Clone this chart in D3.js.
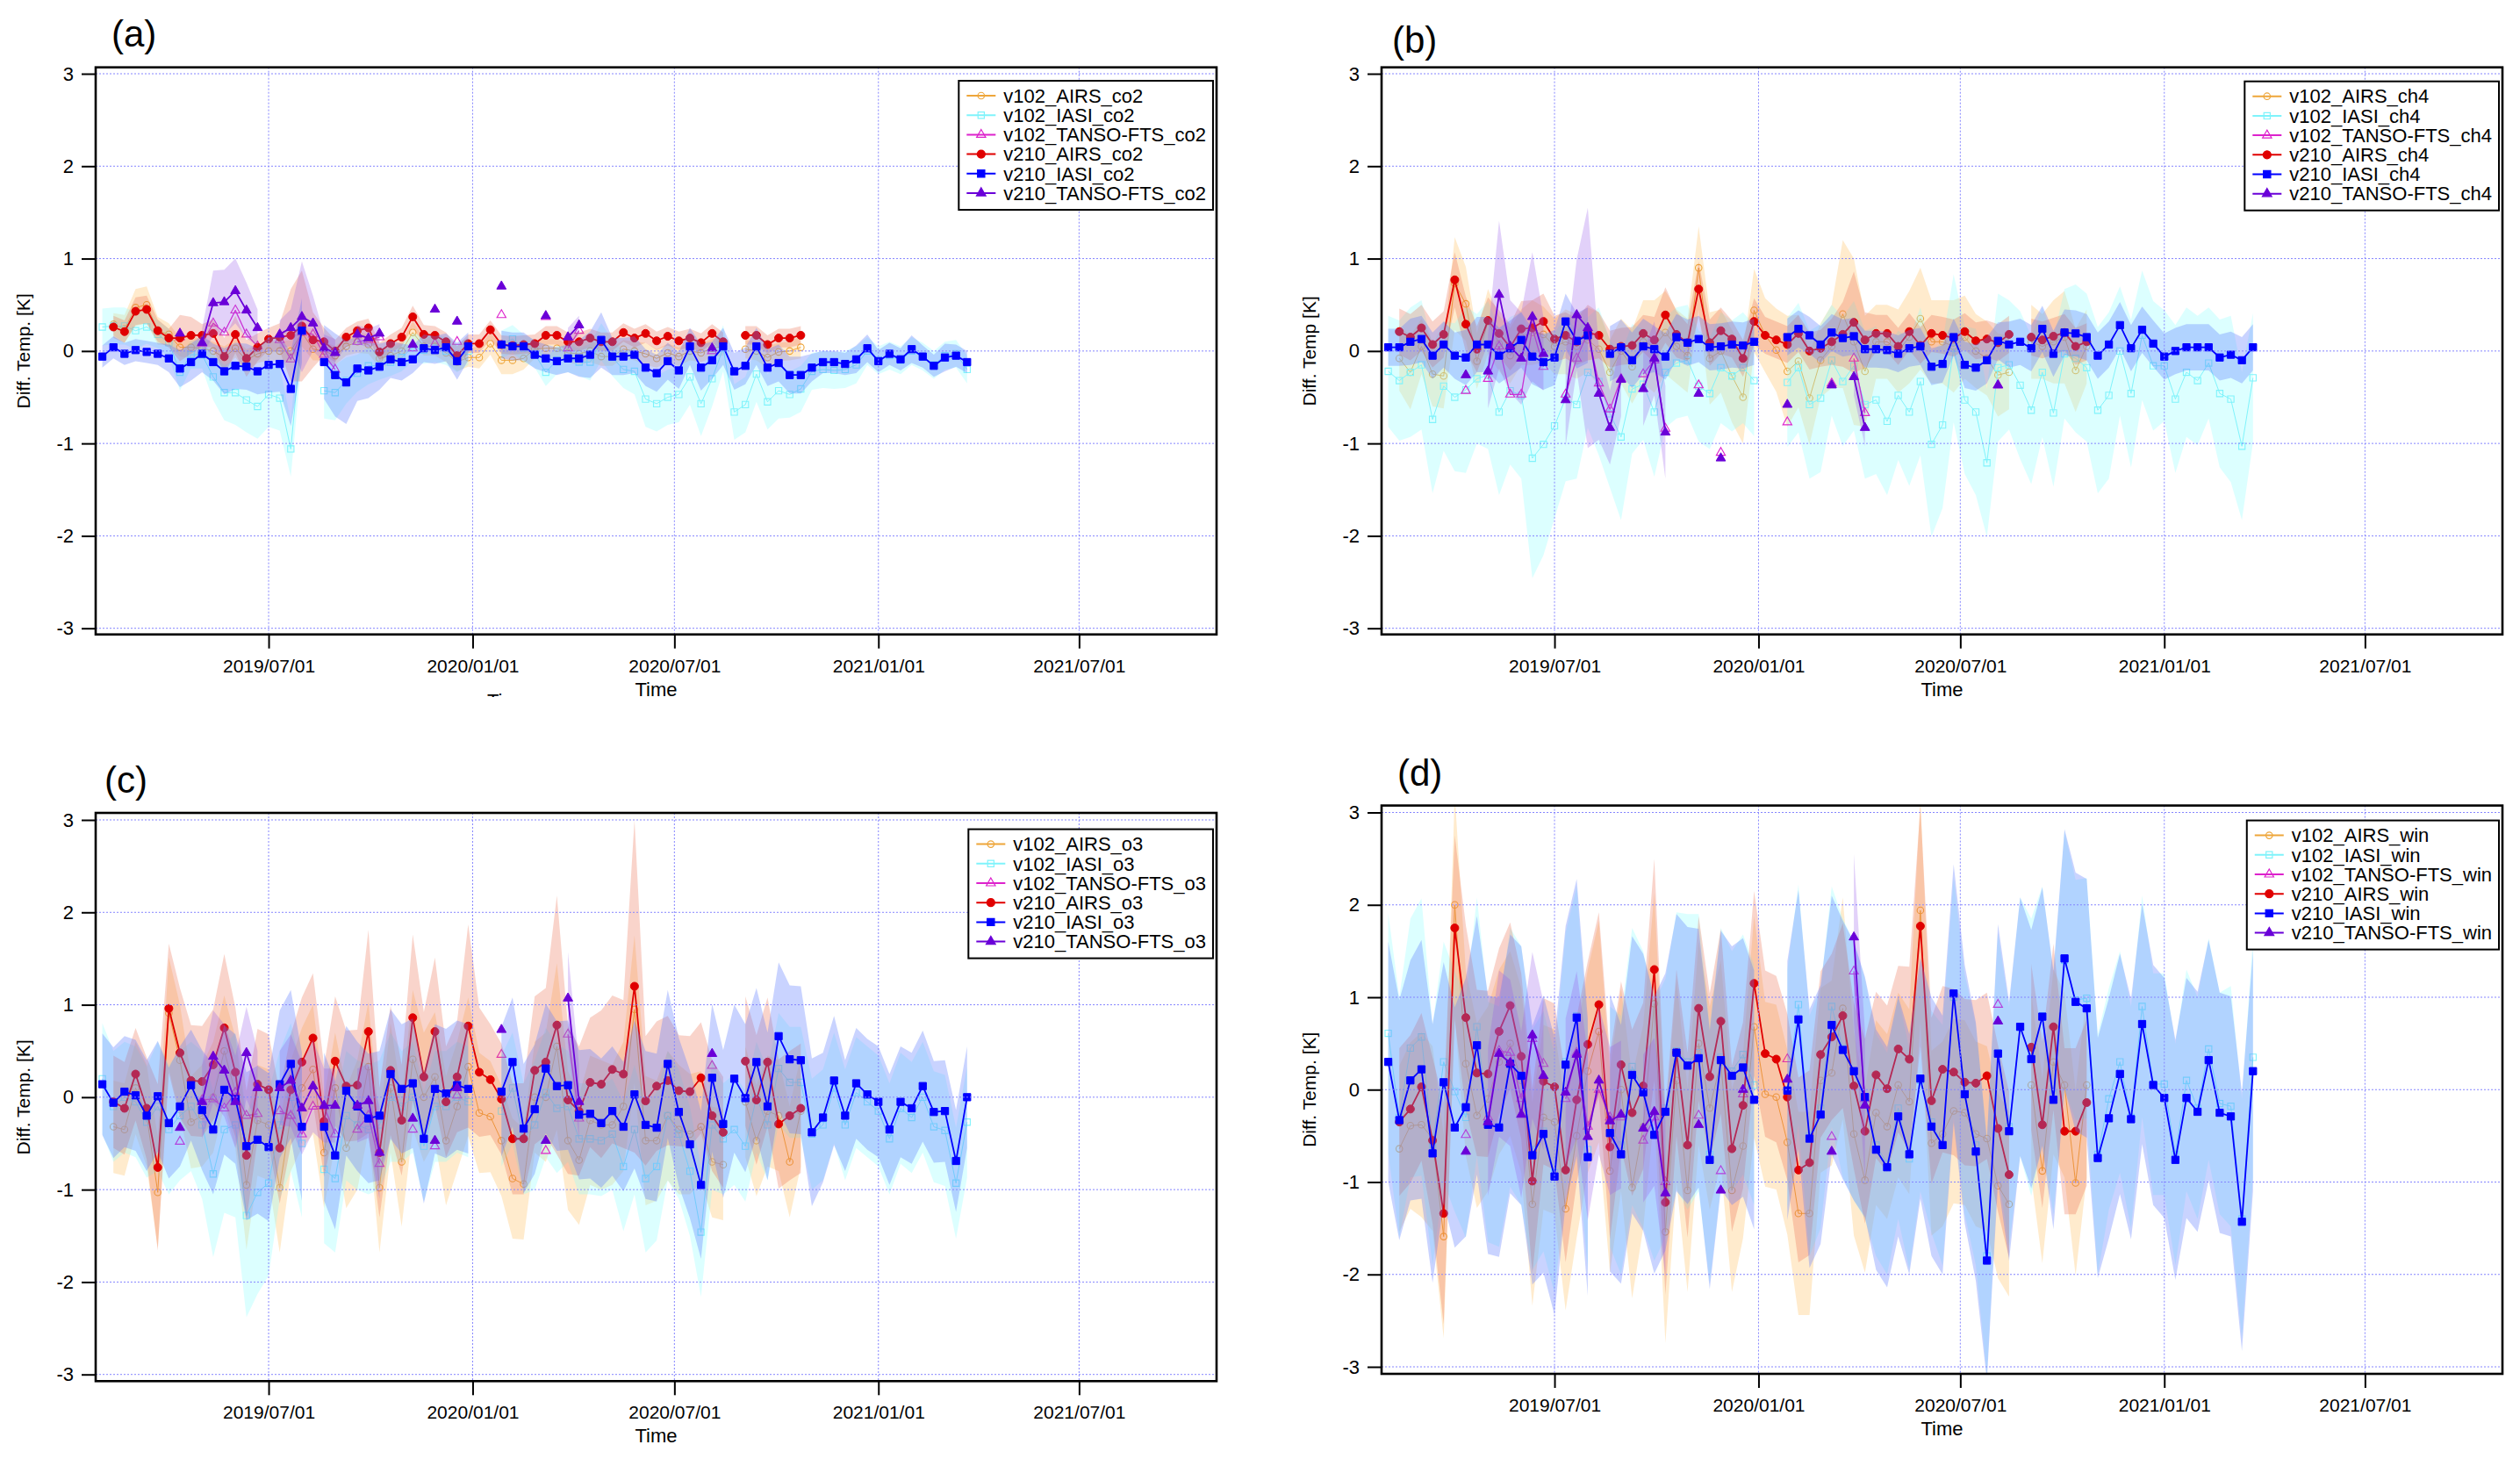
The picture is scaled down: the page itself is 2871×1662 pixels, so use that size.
<!DOCTYPE html>
<html>
<head>
<meta charset="utf-8">
<script src="https://cdn.jsdelivr.net/npm/d3@7"></script>
<style>
body { margin: 0; background: #fff; }
svg text { font-family: "Liberation Sans", Arial, Helvetica, sans-serif; fill: #000; }
</style>
</head>
<body>
<svg id="chart" width="2871" height="1662"></svg>
<script>

// ---------- data ----------
// 10-day sampling dates shared by every series
var dates = [
    "2019-02-01","2019-02-11","2019-02-21","2019-03-03","2019-03-13","2019-03-23","2019-04-02","2019-04-12","2019-04-22","2019-05-02",
    "2019-05-12","2019-05-22","2019-06-01","2019-06-11","2019-06-21","2019-07-01","2019-07-11","2019-07-21","2019-07-31","2019-08-10",
    "2019-08-20","2019-08-30","2019-09-09","2019-09-19","2019-09-29","2019-10-09","2019-10-19","2019-10-29","2019-11-08","2019-11-18",
    "2019-11-28","2019-12-08","2019-12-18","2019-12-28","2020-01-07","2020-01-17","2020-01-27","2020-02-06","2020-02-16","2020-02-26",
    "2020-03-07","2020-03-17","2020-03-27","2020-04-06","2020-04-16","2020-04-26","2020-05-06","2020-05-16","2020-05-26","2020-06-05",
    "2020-06-15","2020-06-25","2020-07-05","2020-07-15","2020-07-25","2020-08-04","2020-08-14","2020-08-24","2020-09-03","2020-09-13",
    "2020-09-23","2020-10-03","2020-10-13","2020-10-23","2020-11-02","2020-11-12","2020-11-22","2020-12-02","2020-12-12","2020-12-22",
    "2021-01-01","2021-01-11","2021-01-21","2021-01-31","2021-02-10","2021-02-20","2021-03-02","2021-03-12","2021-03-22"
];

// TANSO-FTS matchups only exist on these dates
var tansoDates = ["2019-04-12","2019-05-02","2019-05-12","2019-05-22","2019-06-01","2019-06-11","2019-06-21","2019-07-11",
    "2019-07-21","2019-07-31","2019-08-10","2019-08-20","2019-08-30","2019-09-19","2019-09-29","2019-10-09","2019-11-08",
    "2019-11-28","2019-12-18","2020-01-27","2020-03-07","2020-03-27","2020-04-06","2020-08-04"];

var xDomain = ["2019-01-26", "2021-11-02"];
var tickDates = ["2019-07-01", "2020-01-01", "2020-07-01", "2021-01-01", "2021-07-01"];
var yTicks = [-3, -2, -1, 0, 1, 2, 3];
var seriesNames = ["v102_AIRS", "v102_IASI", "v102_TANSO-FTS", "v210_AIRS", "v210_IASI", "v210_TANSO-FTS"];

// (a) co2
var co2_v102_airs = [null,.29,.24,.47,.5,.22,.18,.04,.04,.03, 0,-.07,.03,-.1,-.03,0,0,0,.2,.02, 0,-.05,.05,.1,.07,-.08,-.05,0,.2,.05,
    .05,-.02,-.12,-.07,-.07,.08,-.1,-.1,-.08,.02, .03,.03,-.02,-.03,0,-.06,-.06,.02,0,-.03, -.08,-.02,-.06,0,-.02,.03,.05,null,.02,0, -.07,-.01,0,.04];
var co2_v102_airs_sd = [null,.12,.15,.2,.2,.15,.12,.1,.12,.1, .1,.12,.1,.12,.1,.1,.1,.12,.15,.12, .1,.1,.1,.12,.1,.1,.1,.1,.12,.1,
    .1,.1,.1,.1,.12,.12,.15,.15,.12,.1, .1,.1,.1,.12,.12,.1,.1,.1,.1,.12, .1,.1,.1,.1,.1,.1,.1,null,.1,.1, .12,.1,.1,.12];
var co2_v102_iasi = [.26,.27,.27,.22,.26,.18,.09,-.23,-.04,-.04, -.28,-.45,-.45,-.53,-.6,-.47,-.51,-1.06,.22,null, -.43,-.45,-.32,-.24,-.16,-.16,-.12,-.07,.04,.01,
    .03,0,-.08,0,null,null,.07,.13,.03,-.03, -.23,-.1,-.08,-.12,-.12,.1,-.07,-.2,-.22,-.52, -.57,-.5,-.47,-.28,-.57,-.3,.03,-.66,-.58,-.25,
    -.55,-.43,-.47,-.41,-.22,-.2,-.21,-.2,-.15,0, -.1,-.05,-.1,0,-.06,-.15,-.05,-.03,-.2];
var co2_v102_iasi_sd = [.2,.2,.2,.2,.18,.15,.15,.2,.15,.15, .25,.3,.35,.35,.35,.35,.35,.3,.3,null, .3,.3,.25,.2,.2,.15,.15,.15,.15,.15,
    .15,.15,.15,.15,null,null,.15,.15,.15,.15, .15,.15,.15,.15,.2,.2,.2,.2,.25,.3, .3,.3,.3,.3,.35,.3,.25,.3,.3,.3,
    .3,.3,.25,.25,.2,.2,.2,.2,.2,.15, .15,.15,.15,.15,.15,.15,.15,.15,.15];
var co2_v102_tanso = [.15,.08,.3,.2,.44,.18,.05,.12,-.09,.2,.18,-.04,-.2,.1,.12,.15,.03,.08,.1,.39,.37,.03,.22,0];
var co2_v210_airs = [null,.26,.21,.43,.45,.22,.14,.14,.17,.17, .19,-.06,.18,-.08,.04,.13,.15,.17,.27,.12, .1,0,.15,.22,.25,-.01,.08,.15,.37,.18,
    .17,.1,-.05,.08,.08,.23,.07,.06,.07,.08, .17,.17,.1,.1,.14,.1,.1,.2,.14,.19, .11,.16,.11,.14,.09,.19,.1,null,.17,.17, .07,.14,.14,.17];
var co2_v210_airs_sd = [null,.12,.12,.15,.15,.12,.1,.25,.2,.12, .15,.2,.2,.2,.15,.12,.15,.5,.6,.3, .15,.12,.1,.1,.1,.1,.1,.1,.12,.1,
    .1,.1,.1,.1,.1,.1,.1,.1,.1,.1, .1,.1,.1,.1,.1,.1,.1,.1,.1,.1, .1,.1,.1,.1,.1,.1,.1,null,.1,.1, .1,.1,.1,.1];
var co2_v210_iasi = [-.06,.04,-.03,.01,-.01,-.03,-.08,-.19,-.12,-.03, -.12,-.22,-.16,-.17,-.22,-.15,-.14,-.41,.22,null, -.12,-.26,-.34,-.19,-.21,-.17,-.09,-.12,-.09,.03,
    .01,.04,-.11,.05,null,null,.07,.05,.05,-.04, -.08,-.11,-.08,-.08,-.04,.12,-.06,-.06,-.04,-.18, -.24,-.11,-.21,.05,-.18,-.1,.05,-.22,-.16,.05,
    -.18,-.13,-.26,-.26,-.18,-.12,-.12,-.14,-.09,.03, -.11,-.03,-.09,.02,-.06,-.16,-.07,-.05,-.12];
var co2_v210_iasi_sd = [.12,.12,.12,.12,.12,.12,.15,.2,.2,.2, .2,.25,.25,.25,.25,.3,.3,.4,.35,null, .4,.45,.45,.35,.3,.25,.2,.2,.15,.15,
    .15,.15,.2,.15,null,null,.15,.15,.15,.15, .15,.15,.15,.2,.25,.3,.2,.2,.2,.2, .2,.2,.2,.2,.25,.2,.2,.2,.2,.2,
    .2,.2,.2,.2,.15,.12,.12,.12,.15,.15, .12,.12,.12,.15,.12,.12,.15,.12,.12];
var co2_v210_tanso = [.19,.09,.52,.53,.65,.44,.25,.18,.25,.37,.3,.03,-.02,.18,.14,.19,.07,.45,.32,.7,.38,.15,.28,.03];
var co2_v210_tanso_sd = [.15,.15,.35,.35,.35,.3,.2,.15,.2,.6,.3,.15,.15,.1,.1,.1,.1,.1,.1,.1,.1,.1,.1,.1];

// (b) ch4
var ch4_v102_airs = [null,-.08,-.23,.05,-.25,-.27,.73,.51,-.11,.32, .08,-.05,.15,.2,.18,.05,.1,.05,.12,.02, -.23,0,-.17,.1,.05,.2,.05,-.05,.9,-.08,
    0,-.27,-.5,.44,.17,.01,-.22,-.11,-.51,-.1, .05,.4,.1,-.22,.1,.1,0,.15,.35,.1, .1,.05,.15,0,-.08,-.26,-.23,null,.1,.05, .1,.15,-.21,.05];
var ch4_v102_airs_sd = [null,.35,.4,.3,.35,.35,.5,.4,.3,.35, .3,.3,.3,.35,.3,.3,.35,.35,.35,.4, .35,.35,.4,.45,.5,.45,.4,.4,.45,.5,
    .45,.5,.5,.45,.4,.45,.6,.5,.5,.4, .45,.8,.9,.6,.4,.4,.45,.5,.55,.45, .45,.5,.45,.4,.4,.45,.4,null,.4,.35, .45,.5,.45,.4];
var ch4_v102_iasi = [-.22,-.32,-.23,-.15,-.74,-.38,-.5,-.42,-.3,-.26, -.66,-.43,-.48,-1.16,-1.01,-.81,-.51,-.58,-.23,-.33, -.68,-.93,-.41,-.36,-.66,-.23,-.13,-.1,-.38,-.46,
    -.18,-.27,-.18,-.32,null,null,-.34,-.18,-.58,-.51, -.1,-.33,-.16,-.58,-.53,-.76,-.48,-.66,-.33,-1.01, -.8,.03,-.53,-.66,-1.21,-.18,-.15,-.37,-.64,-.23,
    -.67,-.03,-.08,-.18,-.64,-.48,0,-.46,.17,-.16, -.16,-.52,-.23,-.32,-.13,-.46,-.52,-1.03,-.29];
var ch4_v102_iasi_sd = [.6,.65,.7,.7,.8,.7,.8,.9,.7,.8, .9,.8,.9,1.3,1.2,1,.9,.8,.6,.8, .8,.9,.7,.6,.7,.6,.6,.6,.6,.6,
    .6,.6,.6,.6,null,null,.7,.7,.8,.8, .6,.7,.7,.8,.8,.8,.7,.8,.8,1, .9,.8,.8,.9,.8,.8,.7,.8,.8,.7,
    .8,.7,.8,.8,.9,.9,.7,.8,.7,.7, .6,.8,.7,.7,.6,.8,.9,.8,.7];
var ch4_v102_tanso = [-.43,-.3,.05,-.47,-.47,.25,-.17,-.47,-.08,.2,-.35,-.63,-.3,-.25,-.1,-.84,-.37,-1.1,null,-.77,-.35,-.08,-.67,-.37];
var ch4_v210_airs = [null,.21,.15,.25,.07,.18,.77,.29,.02,.33, .19,.04,.24,.25,.32,.13,.17,.1,.2,.17, .02,.05,.06,.19,.12,.39,.18,.09,.67,.09,
    .22,.13,-.08,.32,.17,.12,.07,.19,0,.03, .1,.18,.31,.12,.19,.19,.05,.21,.06,.19, .17,.14,.21,.11,.13,.09,.18,null,.15,.12, .16,.2,.05,.1];
var ch4_v210_airs_sd = [null,.25,.25,.25,.25,.25,.3,.3,.25,.25, .25,.25,.3,.3,.3,.25,.25,.25,.3,.25, .2,.2,.2,.2,.25,.3,.25,.2,.3,.25,
    .25,.2,.2,.25,.2,.2,.2,.2,.2,.2, .25,.35,.55,.3,.2,.2,.2,.2,.2,.2, .2,.2,.2,.2,.2,.2,.2,null,.2,.2, .2,.2,.2,.2];
var ch4_v210_iasi = [.04,.04,.1,.13,-.05,.07,-.05,-.07,.07,.07, -.05,.03,.12,-.06,-.12,-.07,.32,.11,.17,null, -.03,.04,-.1,.05,.02,-.06,.15,.09,.13,.04,
    .05,.07,.06,.1,null,null,.15,.24,.17,.07, .2,.14,.16,.02,.02,.01,-.03,.03,.05,-.17, -.14,.15,-.15,-.18,-.1,.11,.07,.1,.03,.24,
    -.03,.2,.19,.15,-.05,.07,.28,.03,.23,.08, -.06,0,.04,.04,.04,-.07,-.04,-.1,.04];
var ch4_v210_iasi_sd = [.2,.2,.25,.25,.25,.25,.25,.3,.3,.3, .3,.3,.3,.3,.3,.3,.3,.3,.3,null, .3,.3,.3,.3,.25,.25,.25,.25,.25,.25,
    .25,.25,.25,.25,null,null,.2,.2,.2,.2, .2,.2,.2,.2,.2,.2,.2,.2,.2,.2, .2,.2,.25,.25,.25,.2,.25,.25,.25,.25,
    .25,.25,.25,.25,.25,.25,.25,.25,.25,.25, .25,.25,.25,.25,.25,.25,.25,.25,.25];
var ch4_v210_tanso = [-.26,-.22,.61,.05,-.08,.37,-.03,-.53,.39,.25,-.46,-.83,-.31,-.41,-.08,-.88,-.46,-1.16,null,-.58,-.37,-.28,-.83,-.37];
var ch4_v210_tanso_sd = [.3,.4,.8,.5,.5,.7,.4,.5,.6,1.3,.5,.4,.4,.4,.4,.5,.3,.2,null,.2,.2,.2,.2,.2];

// (c) o3
var o3_v102_airs = [null,-.32,-.35,.1,-.2,-1.03,.91,.4,-.27,-.2, 0,.5,.05,-.95,-.25,-.3,-.98,-.2,.1,.3, -.6,.1,-.55,-.3,.33,-.98,.1,-.7,.41,0,
    .22,-.47,-.1,.33,-.17,-.21,-.47,-.88,-.94,0, 0,.55,-.47,-.68,-.25,-.3,-.3,-.1,.95,-.47, -.47,-.2,-.35,-.4,-.32,-.7,-.73,null,-.05,-.47, -.15,-.2,-.7,-.15];
var o3_v102_airs_sd = [null,.5,.5,.5,.55,.6,.6,.6,.5,.55, .6,.6,.6,.7,.6,.6,.7,.6,.65,.7, .6,.6,.65,.7,.7,.7,.7,.7,.75,.7,
    .7,.7,.7,.75,.65,.6,.6,.65,.6,.6, .7,.9,.75,.7,.7,.7,.65,.7,.8,.7, .65,.7,.7,.65,.6,.6,.6,null,.6,.6, .6,.6,.6,.6];
var o3_v102_iasi = [.2,-.1,0,-.05,-.27,-.1,-.35,-.2,-.1,-.3, -.83,-.35,-.3,-1.28,-1.03,-.93,-.3,0,-.5,null, -.78,-.88,-.2,-.3,-.35,-.3,0,-.1,0,-.53,
    -.1,-.1,0,-.05,null,null,-.15,.1,-.45,-.3, .05,-.12,-.1,-.45,-.45,-.47,-.4,-.75,-.35,-.88, -.75,-.2,-.4,-.8,-1.46,-.3,-.45,-.35,-.53,0,
    -.3,.31,.16,.16,-.4,-.3,.1,-.3,.05,-.05, -.15,-.45,-.12,-.22,0,-.32,-.36,-.93,-.27];
var o3_v102_iasi_sd = [.6,.6,.6,.6,.6,.7,.7,.7,.7,.8, .9,.9,1,1.1,1.1,1,.8,.8,.8,null, .8,.8,.7,.7,.7,.7,.7,.6,.6,.6,
    .6,.6,.6,.6,null,null,.6,.6,.6,.7, .7,.7,.6,.6,.6,.6,.6,.7,.7,.8, .8,.7,.7,.7,.7,.7,.6,.6,.6,.6,
    .6,.6,.6,.6,.6,.6,.6,.6,.6,.6, .6,.6,.6,.6,.6,.6,.6,.6,.6];
var o3_v102_tanso = [-.48,-.03,-.02,-.12,.05,-.2,-.18,-.15,-.2,-.4,-.1,-.1,-.4,-.35,-.2,-.72,-.35,-.53,.02,.46,-.58,.68,-.23,.34];
var o3_v210_airs = [null,-.05,-.12,.25,-.12,-.76,.96,.48,.18,.17, .35,.75,.27,-.63,.14,.08,-.55,.08,.38,.64, -.26,.39,.12,.13,.71,-.6,.29,-.25,.86,.22,
    .71,-.05,.22,.77,.27,.19,-.02,-.45,-.45,.29, .38,.78,-.03,-.15,.16,.14,.3,.25,1.2,-.04, .12,.18,.07,.06,.21,-.2,-.38,null,.39,-.03, .38,-.29,-.2,-.12];
var o3_v210_airs_sd = [null,.5,.5,.5,.55,.9,.7,.7,.6,.6, .6,.8,.7,.7,.6,.6,.6,.6,.7,.7, .6,.7,.6,.6,1.1,.7,.7,.6,.9,.7,
    .8,.6,.6,1.1,.7,.6,.6,.6,.6,.8, .8,1.4,.8,.7,.7,.8,.8,.8,1.8,.7, .7,.7,.6,.6,.6,.6,.6,null,.7,.7, .7,.7,.7,.7];
var o3_v210_iasi = [.14,-.06,.06,.02,-.2,.01,-.28,-.1,.13,-.14, -.35,.08,-.02,-.53,-.46,-.54,.14,.36,-.32,null, -.32,-.63,.07,-.1,-.23,-.2,.25,.09,.15,-.45,
    .09,.04,.13,.09,null,null,.06,.38,-.34,-.13, .31,.12,.13,-.19,-.18,-.28,-.15,-.32,.03,-.3, -.33,.36,-.16,-.51,-.95,.21,-.29,.2,-.01,.38,
    -.1,.66,.41,.4,-.38,-.22,.18,-.2,.15,.03, -.05,-.35,-.05,-.12,.12,-.16,-.15,-.69,0];
var o3_v210_iasi_sd = [.55,.6,.6,.6,.6,.6,.6,.65,.6,.65, .7,.7,.7,.8,.8,.8,.8,.8,.8,null, .8,.8,.7,.7,.7,.7,.7,.7,.7,.7,
    .7,.7,.7,.7,null,null,.7,.7,.7,.7, .7,.7,.7,.7,.7,.7,.7,.7,.8,.8, .8,.8,.8,.8,.8,.8,.8,.8,.8,.8,
    .8,.8,.8,.8,.8,.7,.7,.6,.6,.6, .6,.6,.6,.6,.6,.55,.55,.55,.55];
var o3_v210_tanso = [-.33,-.05,.44,.29,-.05,.48,.1,.1,.18,-.12,.12,-.09,-.09,-.09,-.04,-.6,-.23,-.47,.1,.73,-.47,1.07,-.05,.47];
var o3_v210_tanso_sd = [.4,.4,.5,.5,.5,.5,.4,.4,.5,.5,.5,.4,.4,.4,.4,.5,.4,.4,.4,.4,.4,.5,.4,.4];

// (d) win
var win_v102_airs = [null,-.64,-.39,-.38,-.53,-1.59,2,.28,-.28,-.1, .3,.5,.1,-1.24,-.3,-.35,-1.29,-.5,.2,.63, -.88,0,-1.06,-.4,.93,-1.54,.1,-1.09,.5,-.2,
    .3,-1.09,-.61,.68,-.05,-.08,-.57,-1.34,-1.34,.1, .18,.88,-.48,-.98,-.25,-.4,.05,-.13,1.94,-.58, -.48,-.23,-.25,-.48,-.53,-1.04,-1.24,null,.05,-.88, .3,.05,-1.01,.05];
var win_v102_airs_sd = [null,.9,.9,1,1,1.1,1.2,1,1,1, 1,1,1,1.1,1,1,1.1,1.1,1.1,1.2, 1.1,1.1,1.2,1.1,1.2,1.2,1.1,1.1,1.1,1.1,
    1.1,1.1,1,1.2,1,1,1,1.1,1.1,1, 1,1.2,1.1,1,1,1,1,1,1.2,1, 1,1,1,1,1,1,1,null,1,1, 1,1,1,1];
var win_v102_iasi = [.61,-.3,.45,.57,-.6,.3,-.02,-.3,.68,-.35, -.4,.35,.15,-.65,-.45,-.9,.3,.8,-.65,null, -.4,-.6,.25,0,-.45,-.2,.42,.3,.4,-.7,
    .35,.2,.38,.05,null,null,0,.92,-.5,-.2, .9,.45,.2,-.1,-.6,-.8,-.2,-.75,.1,-.35, -.6,1,-.05,-.6,-1.8,.4,-.4,.68,.35,.8,
    -.05,1.4,.97,.99,-.7,-.1,.3,-.3,.9,.06, .06,-.7,.1,-.2,.44,-.15,-.18,-1.4,.35];
var win_v102_iasi_sd = [1.3,1.3,1.4,1.5,1.3,1.3,1.3,1.3,1.4,1.3, 1.3,1.4,1.4,1.3,1.3,1.3,1.4,1.4,1.3,null, 1.3,1.4,1.5,1.5,1.4,1.4,1.5,1.6,1.5,1.4,
    1.4,1.3,1.3,1.3,null,null,1.3,1.3,1.3,1.3, 1.3,1.4,1.4,1.3,1.2,1.2,1.2,1.2,1.2,1.2, 1.3,1.3,1.3,1.3,1.3,1.3,1.3,1.4,1.5,1.4,
    1.3,1.4,1.3,1.3,1.3,1.2,1.2,1.2,1.2,1.2, 1.2,1.2,1.2,1.2,1.2,1.2,1.3,1.3,1.3];
var win_v102_tanso = [-.49,-.3,.42,.4,-.1,.55,.28,-.1,.4,-.4,0,-.3,-.3,-.55,-.3,-1,-.28,-.88,-.05,.33,-.51,1.28,-.1,.92];
var win_v210_airs = [null,-.35,-.21,.03,-.55,-1.34,1.75,.78,.18,.17, .63,.91,.36,-.99,.09,.03,-.87,-.11,.49,.92, -.62,.27,-.25,.04,1.3,-1.22,.4,-.6,.88,.14,
    .74,-.64,-.17,1.15,.39,.33,-.08,-.87,-.79,.38, .57,.8,.04,-.45,.16,.01,.44,.33,1.77,-.12, .22,.19,.08,.07,.15,-.42,-.92,null,.46,-.38, .68,-.45,-.45,-.14];
var win_v210_airs_sd = [null,.8,.8,.8,.9,1.2,1,1,.9,.9, .9,.9,.9,1,.9,.9,1,.9,.9,1, 1,.9,.9,.9,1.2,1,.9,1,1,.9,
    1,.9,.9,1,.9,.9,.9,1,1,.9, .9,1,.9,1,.9,.9,.9,1,1.3,.9, .9,.9,.9,.9,.9,.9,.9,null,.9,.9, .9,.9,.9,.9];
var win_v210_iasi = [.3,-.33,.1,.22,-.69,.08,-.41,-.19,.48,-.38, -.41,.28,.15,-.71,-.48,-.94,.27,.78,-.73,null, -.47,-.7,.16,-.03,-.49,-.24,.4,.26,.34,-.76,
    .32,.15,.24,-.11,null,null,-.01,.76,-.53,-.27, .7,.43,.2,-.08,-.65,-.84,-.29,-.7,.12,-.4, -.6,1.04,-.05,-.67,-1.85,.39,-.45,.68,.33,.79,
    -.11,1.42,.95,.88,-.74,-.31,.17,-.32,.71,.05, -.09,-.76,-.09,-.24,.32,-.25,-.29,-1.43,.2];
var win_v210_iasi_sd = [1.3,1.3,1.3,1.4,1.4,1.3,1.3,1.4,1.4,1.4, 1.4,1.4,1.4,1.4,1.5,1.5,1.5,1.5,1.5,null, 1.5,1.4,1.5,1.5,1.5,1.5,1.5,1.5,1.4,1.4,
    1.4,1.4,1.4,1.4,null,null,1.4,1.4,1.4,1.4, 1.4,1.4,1.4,1.3,1.3,1.3,1.3,1.3,1.3,1.4, 1.4,1.4,1.4,1.4,1.3,1.4,1.4,1.4,1.4,1.4,
    1.4,1.4,1.4,1.4,1.3,1.3,1.3,1.3,1.3,1.3, 1.3,1.3,1.3,1.3,1.3,1.3,1.3,1.4,1.3];
var win_v210_tanso = [-.67,-.35,.39,.29,-.27,.59,.15,-.03,.38,-.51,.1,-.34,-.27,-.42,-.24,-1.12,-.38,-1.09,0,.11,-.67,1.65,-.17,.74];
var win_v210_tanso_sd = [.8,.8,.9,.9,.9,.9,.8,.8,.9,.9,.8,.8,.8,.8,.8,.9,.8,.8,.8,.8,.8,.9,.8,.8];

// ---------- styles ----------
var seriesStyle = [
    {color: "#eea63a", shape: "circle",   filled: false, width: 1,   band: "rgba(255,190,90,0.30)"},
    {color: "#7ff3fb", shape: "square",   filled: false, width: 1,   band: "rgba(140,255,255,0.30)"},
    {color: "#dd22cc", shape: "triangle", filled: false, width: 1.3, band: null},
    {color: "#e00000", shape: "circle",   filled: true,  width: 1.8, band: "rgba(235,100,70,0.28)"},
    {color: "#0000ff", shape: "square",   filled: true,  width: 1.8, band: "rgba(90,120,255,0.33)"},
    {color: "#6a00d8", shape: "triangle", filled: true,  width: 1.8, band: "rgba(150,90,235,0.28)"}
];
// stacking: each std band covers the traces drawn before it
var drawOrder = [["band", 0], ["line", 0], ["band", 1], ["line", 1], ["line", 2], ["band", 3], ["line", 3],
                 ["band", 4], ["band", 5], ["line", 4], ["line", 5]];

var parseDay = d3.utcParse("%Y-%m-%d");

/**
 * Spreads a TANSO-FTS list over the full date axis (null where there is no matchup)
 */
function spread(vals) {
    if (!vals) return null;
    var full = dates.map(function () { return null; });
    tansoDates.forEach(function (d, i) {
        var k = dates.indexOf(d);
        full[k] = vals[i] == null ? null : vals[i];
    });
    return full;
}

/**
 * Constructor for one sub plot
 */
function PanelChart(svg, opts) {
    var self = this;
    self.svg = svg;
    self.opts = opts;
    self.init();
}

/**
 * Scales and clip area
 */
PanelChart.prototype.init = function () {
    var self = this;
    var o = self.opts;

    self.g = self.svg.append("g").attr("class", "panel-" + o.gas);
    self.xScale = d3.scaleUtc().domain(xDomain.map(parseDay)).range([o.left, o.right]);
    self.yScale = d3.scaleLinear().domain([-3, 3]).range([o.yBot, o.yTop]);

    self.clipId = "clip-" + o.gas;
    self.g.append("clipPath").attr("id", self.clipId)
        .append("rect")
        .attr("x", o.left).attr("y", o.frameTop)
        .attr("width", o.right - o.left).attr("height", o.frameBot - o.frameTop);
};

/**
 * Dotted grid on the major ticks
 */
PanelChart.prototype.grid = function () {
    var self = this;
    var o = self.opts;
    var grid = self.g.append("g").attr("class", "grid")
        .attr("stroke", "#8585ff").attr("stroke-width", 1).attr("stroke-dasharray", "2,2");
    grid.selectAll("line.h").data(yTicks).enter().append("line")
        .attr("x1", o.left).attr("x2", o.right)
        .attr("y1", function (d) { return self.yScale(d); })
        .attr("y2", function (d) { return self.yScale(d); });
    grid.selectAll("line.v").data(tickDates).enter().append("line")
        .attr("x1", function (d) { return self.xScale(parseDay(d)); })
        .attr("x2", function (d) { return self.xScale(parseDay(d)); })
        .attr("y1", o.frameTop).attr("y2", o.frameBot);
};

/**
 * Draws std bands, lines, markers, axes and legend
 */
PanelChart.prototype.update = function (values, sds) {
    var self = this;
    var o = self.opts;
    var x = self.xScale, y = self.yScale;

    var rows = values.map(function (vals, s) {
        var sd = sds[s];
        return dates.map(function (d, i) {
            var v = vals[i];
            return {date: parseDay(d), v: v == null ? null : v, sd: sd && sd[i] != null ? sd[i] : null};
        });
    });

    var plot = self.g.append("g").attr("clip-path", "url(#" + self.clipId + ")");

    var area = d3.area()
        .defined(function (d) { return d.v != null && d.sd != null; })
        .x(function (d) { return x(d.date); })
        .y0(function (d) { return y(d.v - d.sd); })
        .y1(function (d) { return y(d.v + d.sd); });

    var line = d3.line()
        .defined(function (d) { return d.v != null; })
        .x(function (d) { return x(d.date); })
        .y(function (d) { return y(d.v); });

    drawOrder.forEach(function (step) {
        var s = step[1];
        var st = seriesStyle[s];
        if (step[0] == "band") {
            if (!sds[s]) return;
            plot.append("path").datum(rows[s])
                .attr("d", area)
                .attr("fill", st.band)
                .attr("stroke", "none");
            return;
        }
        var sg = plot.append("g").attr("class", "series" + s);
        sg.append("path").datum(rows[s])
            .attr("d", line)
            .attr("fill", "none")
            .attr("stroke", st.color)
            .attr("stroke-width", st.width)
            .attr("stroke-linejoin", "round");
        sg.selectAll("path.mk").data(rows[s].filter(function (d) { return d.v != null; }))
            .enter().append("path")
            .attr("class", "mk")
            .attr("transform", function (d) { return "translate(" + x(d.date) + "," + y(d.v) + ")"; })
            .attr("d", self.marker(st))
            .attr("fill", st.filled ? st.color : "none")
            .attr("stroke", st.color)
            .attr("stroke-width", st.filled ? 1 : 1.1);
    });

    self.grid();

    //frame
    self.g.append("rect")
        .attr("x", o.left).attr("y", o.frameTop)
        .attr("width", o.right - o.left).attr("height", o.frameBot - o.frameTop)
        .attr("fill", "none").attr("stroke", "#000").attr("stroke-width", 2.6);

    //axes
    var xAxis = d3.axisBottom(x)
        .tickValues(tickDates.map(parseDay))
        .tickFormat(d3.utcFormat("%Y/%m/%d"))
        .tickSize(16).tickPadding(12);
    var gx = self.g.append("g").attr("transform", "translate(0," + o.frameBot + ")").call(xAxis);
    gx.select(".domain").remove();
    gx.selectAll(".tick line").attr("stroke", "#000").attr("stroke-width", 2);
    gx.selectAll(".tick text").attr("font-size", 21).attr("font-family", null);

    var yAxis = d3.axisLeft(y).tickValues(yTicks).tickFormat(d3.format("d")).tickSize(16).tickPadding(9);
    var gy = self.g.append("g").attr("transform", "translate(" + o.left + ",0)").call(yAxis);
    gy.select(".domain").remove();
    gy.selectAll(".tick line").attr("stroke", "#000").attr("stroke-width", 2);
    gy.selectAll(".tick text").attr("font-size", 22).attr("font-family", null)
        .text(function (d) { return String(d).replace("\u2212", "-"); });

    //labels
    self.g.append("text")
        .attr("x", (o.left + o.right) / 2).attr("y", o.frameBot + 70)
        .attr("text-anchor", "middle").attr("font-size", 22)
        .text("Time");
    var yMid = (o.yTop + o.yBot) / 2;
    self.g.append("text")
        .attr("transform", "translate(" + (o.left - 75) + "," + yMid + ") rotate(-90)")
        .attr("text-anchor", "middle").attr("font-size", 21)
        .text(o.ylabel);
    self.g.append("text")
        .attr("x", o.tagX).attr("y", o.tagY)
        .attr("font-size", 42)
        .text(o.tag);

    self.legend();
};

PanelChart.prototype.marker = function (st) {
    var types = {circle: d3.symbolCircle, square: d3.symbolSquare, triangle: d3.symbolTriangle};
    var sizes = {circle: st.filled ? 64 : 44, square: st.filled ? 68 : 52, triangle: st.filled ? 50 : 46};
    return d3.symbol().type(types[st.shape]).size(sizes[st.shape])();
};

/**
 * Legend box in the upper right corner
 */
PanelChart.prototype.legend = function () {
    var self = this;
    var o = self.opts;
    var lg = self.g.append("g").attr("class", "legend");
    var box = lg.append("rect");
    var rowH = 22.2;
    var labels = seriesNames.map(function (n) { return n + "_" + o.gas; });

    var items = lg.selectAll("g.item").data(labels).enter().append("g").attr("class", "item");
    items.append("text")
        .attr("font-size", 22)
        .attr("dy", "0.35em")
        .text(function (d) { return d; });

    var maxW = d3.max(items.selectAll("text").nodes(), function (n) { return n.getComputedTextLength(); });
    var boxW = 51 + maxW + 8;
    var boxH = 147;
    var bx = o.right - 4 - boxW;
    var by = o.legTop;

    box.attr("x", bx).attr("y", by).attr("width", boxW).attr("height", boxH)
        .attr("fill", "#fff").attr("stroke", "#000").attr("stroke-width", 2);

    items.attr("transform", function (d, i) { return "translate(" + bx + "," + (by + 17 + i * rowH) + ")"; });
    items.select("text").attr("x", 51);
    items.each(function (d, i) {
        var st = seriesStyle[i];
        var it = d3.select(this);
        it.insert("line", "text").attr("x1", 9).attr("x2", 42).attr("y1", 0).attr("y2", 0)
            .attr("stroke", st.color).attr("stroke-width", 2);
        it.insert("path", "text").attr("transform", "translate(25.5,0)")
            .attr("d", self.marker(st))
            .attr("fill", st.filled ? st.color : "none")
            .attr("stroke", st.color).attr("stroke-width", 1.2);
    });
};

// ---------- layout ----------
var panels = [
    {tag: "(a)", gas: "co2", ylabel: "Diff. Temp. [K]", left: 109, right: 1386, yTop: 84, yBot: 715.7, frameTop: 76.7, frameBot: 722.7,
     tagX: 127, tagY: 53, legTop: 92,
     values: [co2_v102_airs, co2_v102_iasi, spread(co2_v102_tanso), co2_v210_airs, co2_v210_iasi, spread(co2_v210_tanso)],
     sds: [co2_v102_airs_sd, co2_v102_iasi_sd, null, co2_v210_airs_sd, co2_v210_iasi_sd, spread(co2_v210_tanso_sd)]},
    {tag: "(b)", gas: "ch4", ylabel: "Diff. Temp [K]", left: 1574, right: 2851, yTop: 84, yBot: 715.7, frameTop: 76.7, frameBot: 722.7,
     tagX: 1586, tagY: 60, legTop: 92.7,
     values: [ch4_v102_airs, ch4_v102_iasi, spread(ch4_v102_tanso), ch4_v210_airs, ch4_v210_iasi, spread(ch4_v210_tanso)],
     sds: [ch4_v102_airs_sd, ch4_v102_iasi_sd, null, ch4_v210_airs_sd, ch4_v210_iasi_sd, spread(ch4_v210_tanso_sd)]},
    {tag: "(c)", gas: "o3", ylabel: "Diff. Temp. [K]", left: 109, right: 1386, yTop: 934, yBot: 1565.7, frameTop: 926, frameBot: 1573.3,
     tagX: 119, tagY: 903, legTop: 944.6,
     values: [o3_v102_airs, o3_v102_iasi, spread(o3_v102_tanso), o3_v210_airs, o3_v210_iasi, spread(o3_v210_tanso)],
     sds: [o3_v102_airs_sd, o3_v102_iasi_sd, null, o3_v210_airs_sd, o3_v210_iasi_sd, spread(o3_v210_tanso_sd)]},
    {tag: "(d)", gas: "win", ylabel: "Diff. Temp. [K]", left: 1574, right: 2851, yTop: 925.5, yBot: 1557, frameTop: 917.6, frameBot: 1565,
     tagX: 1592, tagY: 895, legTop: 934.6,
     values: [win_v102_airs, win_v102_iasi, spread(win_v102_tanso), win_v210_airs, win_v210_iasi, spread(win_v210_tanso)],
     sds: [win_v102_airs_sd, win_v102_iasi_sd, null, win_v210_airs_sd, win_v210_iasi_sd, spread(win_v210_tanso_sd)]}
];

var svg = d3.select("#chart");
panels.forEach(function (p) {
    var chart = new PanelChart(svg, p);
    chart.update(p.values, p.sds);
});

// half hidden stray label under panel (a)
var stray = svg.append("g");
stray.append("clipPath").attr("id", "stray-clip").append("rect")
    .attr("x", 540).attr("y", 786).attr("width", 80).attr("height", 8);
stray.append("text").attr("clip-path", "url(#stray-clip)")
    .attr("x", 579).attr("y", 806).attr("text-anchor", "middle").attr("font-size", 22)
    .text("Time");

</script>
</body>
</html>
